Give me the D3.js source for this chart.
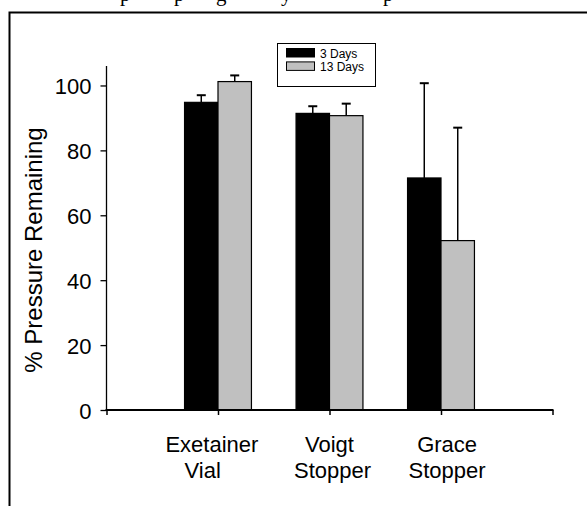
<!DOCTYPE html>
<html>
<head>
<meta charset="utf-8">
<script src="https://cdn.jsdelivr.net/npm/d3@7/dist/d3.min.js"></script>
<style>
  html, body { margin: 0; padding: 0; background: #fff; }
  svg { display: block; }
  text { font-family: "Liberation Sans", Arial, sans-serif; fill: #000; }
  .pre { white-space: pre; }
</style>
</head>
<body>
<svg id="chart" width="587" height="506"></svg>
<script>
// ---- data ----
const categories = ["Exetainer Vial", "Voigt Stopper", "Grace Stopper"];
const categoryLine1 = ["Exetainer  ", "Voigt", "  Grace"];
const categoryLine2 = ["Vial     ", " Stopper", "  Stopper"];
const seriesNames = ["3 Days", "13 Days"];
const days3 = [94.8, 91.4, 71.5];
const days3Err = [2.2, 2.2, 29.2];
const days13 = [101.2, 90.7, 52.2];
const days13Err = [1.9, 3.7, 34.8];
const yTicks = [0, 20, 40, 60, 80, 100];
const xTicks = [0, 1, 2, 3, 4];
const captionGlyphs = ["p", "p", "g", "y", "p"];
const captionGlyphX = [120, 174, 216, 281, 383];

const svg = d3.select("#chart");

// clipped caption line above the figure (only descenders visible)
svg.append("g").selectAll("text").data(captionGlyphs).join("text")
  .attr("x", (d, i) => captionGlyphX[i])
  .attr("y", 0.5)
  .style("font-family", "'Liberation Serif', 'Times New Roman', serif")
  .style("font-size", "21px")
  .text(d => d);

// figure frame (clipped at right and bottom)
svg.append("path")
  .attr("d", "M9.5,510 V12.5 H590")
  .attr("fill", "none")
  .attr("stroke", "#000")
  .attr("stroke-width", 2);

const x = d3.scaleLinear().domain([0, 4]).range([106.5, 552.5]);
const y = d3.scaleLinear().domain([0, 106]).range([410, 66]);
const barW = 0.3;

// bars
const series = [
  { name: seriesNames[0], vals: days3, errs: days3Err, fill: "#000", off: -barW },
  { name: seriesNames[1], vals: days13, errs: days13Err, fill: "#c0c0c0", off: 0 }
];

// error bars (drawn first so bar tops sit on them)
series.forEach(s => {
  const g = svg.append("g");
  s.vals.forEach((v, i) => {
    const cx = x(i + 1 + s.off + barW / 2);
    const yt = y(v + s.errs[i]);
    g.append("line").attr("x1", cx).attr("x2", cx).attr("y1", y(v)).attr("y2", yt)
      .attr("stroke", "#000").attr("stroke-width", 1.5);
    g.append("line").attr("x1", cx - 4.5).attr("x2", cx + 4.5).attr("y1", yt).attr("y2", yt)
      .attr("stroke", "#000").attr("stroke-width", 2);
  });
});

series.forEach(s => {
  svg.append("g").selectAll("rect").data(s.vals).join("rect")
    .attr("x", (d, i) => x(i + 1 + s.off))
    .attr("width", x(barW) - x(0))
    .attr("y", d => y(d))
    .attr("height", d => y(0) - y(d))
    .attr("fill", s.fill)
    .attr("stroke", "#000")
    .attr("stroke-width", 1.2);
});

// y axis
const yAxis = d3.axisLeft(y).tickValues(yTicks).tickSize(6).tickPadding(9).tickFormat(d3.format("d"));
const gy = svg.append("g").attr("transform", "translate(106.5,0)").call(yAxis);
gy.select(".domain").attr("d", `M0,${y(106)}V${y(0)}`).attr("stroke-width", 1.3);
gy.selectAll(".tick line").attr("stroke-width", 1.3);
gy.selectAll(".tick text")
  .style("font-size", "22px")
  .attr("dy", null)
  .attr("y", 8.5);

// x axis
const xAxis = d3.axisBottom(x).tickValues(xTicks).tickSize(5).tickFormat("");
const gx = svg.append("g").attr("transform", "translate(0,410)").call(xAxis);
gx.select(".domain").attr("d", `M${x(0) - 1},0H${x(4) + 1}`).attr("stroke-width", 2);
gx.selectAll(".tick line").attr("stroke-width", 1.5);

// category labels
const lab = svg.append("g").attr("class", "xlabels");
categories.forEach((c, i) => {
  lab.append("text").attr("class", "pre").attr("x", x(i + 1)).attr("y", 452)
    .attr("text-anchor", "middle").style("font-size", "22px").text(categoryLine1[i]);
  lab.append("text").attr("class", "pre").attr("x", x(i + 1)).attr("y", 478)
    .attr("text-anchor", "middle").style("font-size", "22px").text(categoryLine2[i]);
});

// y axis title
svg.append("text")
  .attr("transform", "translate(42,250) rotate(-90)")
  .attr("text-anchor", "middle")
  .style("font-size", "24px")
  .text("% Pressure Remaining");

// legend
const lg = svg.append("g");
lg.append("rect").attr("x", 277.5).attr("y", 43.5).attr("width", 98).attr("height", 43)
  .attr("fill", "#fff").attr("stroke", "#000").attr("stroke-width", 1);
series.forEach((s, i) => {
  lg.append("rect").attr("x", 286.5).attr("y", 48.5 + i * 13.4).attr("width", 28).attr("height", 8.5)
    .attr("fill", s.fill).attr("stroke", "#000").attr("stroke-width", 1);
  lg.append("text").attr("x", 320).attr("y", 57.5 + i * 13.4)
    .style("font-size", "12px").text(s.name);
});
</script>
</body>
</html>
